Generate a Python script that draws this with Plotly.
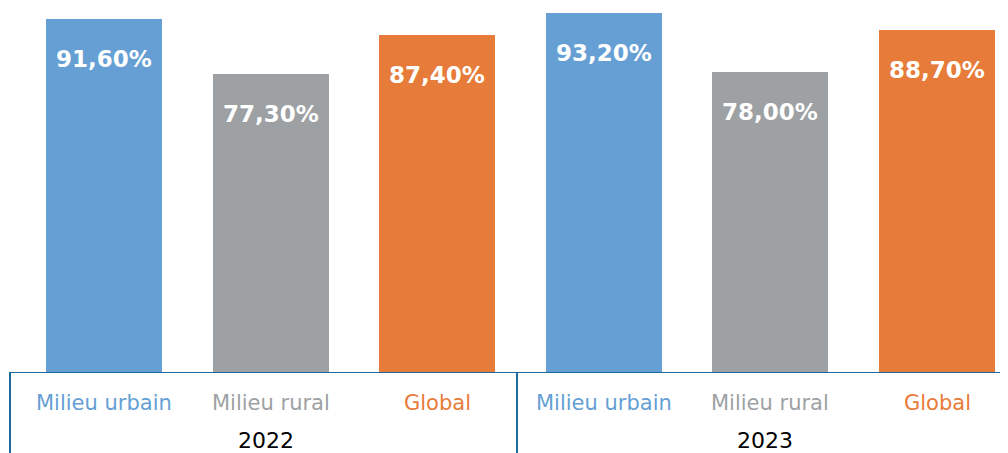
import plotly.graph_objects as go

years = ["2022", "2023"]
categories = ["Milieu urbain", "Milieu rural", "Global"]
values_2022 = [91.6, 77.3, 87.4]
values_2023 = [93.2, 78.0, 88.7]
colors = ["#659fd4", "#9ea1a4", "#e77c3a"]

values = values_2022 + values_2023
xs = list(range(len(values)))
bar_colors = colors * 2
labels = [f"{v:.2f}%".replace(".", ",") for v in values]

W, H = 1000, 445
B = 80
PLOT_H = H - B

fig = go.Figure()
fig.add_trace(go.Bar(
    x=xs, y=values, marker=dict(color=bar_colors, line=dict(width=0)),
    width=0.696, hoverinfo="skip", showlegend=False,
))

font_family = "'DejaVu Sans', sans-serif"
for x, v, lab in zip(xs, values, labels):
    fig.add_annotation(x=x, y=v, text=f"<b>{lab}</b>", showarrow=False,
                       yanchor="middle", yshift=-40,
                       font=dict(color="white", size=23, family=font_family))

for i, x in enumerate(xs):
    fig.add_annotation(x=x, y=0, xref="x", yref="y", yanchor="middle", yshift=-30,
                       text=categories[i % 3], showarrow=False,
                       font=dict(color=colors[i % 3], size=21, family=font_family))
for g, yr in enumerate(years):
    fig.add_annotation(x=g * 3 + 1, y=0, xref="x", yref="y", text=yr,
                       showarrow=False, yanchor="middle", yshift=-67, xshift=-5,
                       font=dict(color="black", size=22, family=font_family))

line_col = "#1d6a9c"
fig.add_shape(type="line", xref="paper", yref="y", x0=1 / W, x1=1, y0=0, y1=0,
              line=dict(color=line_col, width=2))
for px in (2, 509):
    fig.add_shape(type="line", xref="paper", yref="paper", x0=px / W, x1=px / W,
                  y0=0, y1=-B / PLOT_H, line=dict(color=line_col, width=2))

fig.update_layout(
    width=W, height=H,
    margin=dict(l=0, r=0, t=0, b=B),
    plot_bgcolor="white", paper_bgcolor="white",
    xaxis=dict(range=[-0.576, 5.426], showticklabels=False, showgrid=False,
               zeroline=False, showline=False, fixedrange=True),
    yaxis=dict(range=[0, PLOT_H / 3.865], showticklabels=False, showgrid=False,
               zeroline=False, showline=False, fixedrange=True),
    bargap=0,
)

fig.write_html("out.html")
